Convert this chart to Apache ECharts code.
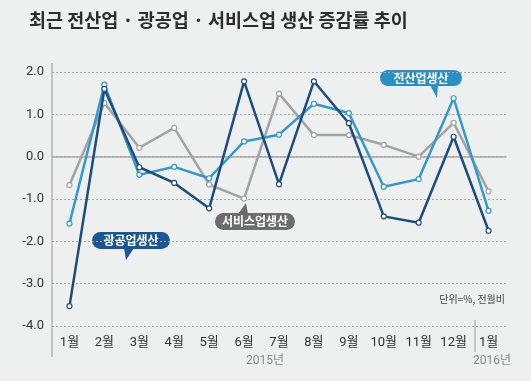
<!DOCTYPE html>
<html>
<head>
<meta charset="utf-8">
<script src="https://cdn.jsdelivr.net/npm/echarts@6/dist/echarts.min.js"></script>
<style>
html,body{margin:0;padding:0;background:#eeefef;}
#c{width:531px;height:381px;}
</style>
</head>
<body>
<div id="c"></div>
<script>
var categories = ['1월','2월','3월','4월','5월','6월','7월','8월','9월','10월','11월','12월','1월'];
var allIndustry = [-1.58, 1.70, -0.43, -0.24, -0.51, 0.36, 0.52, 1.25, 1.03, -0.71, -0.53, 1.38, -1.28];
var mining = [-3.53, 1.60, -0.25, -0.62, -1.22, 1.78, -0.65, 1.78, 0.79, -1.41, -1.56, 0.47, -1.75];
var services = [-0.67, 1.27, 0.21, 0.68, -0.66, -0.99, 1.49, 0.51, 0.51, 0.28, 0.00, 0.80, -0.82];
var yTicks = [-4, -3, -2, -1, 0, 1, 2];

var KR = "'Noto Sans CJK KR', sans-serif";
var NUM = "'Liberation Sans Narrow', 'Roboto', 'Noto Sans CJK KR', sans-serif";

var chart = echarts.init(document.getElementById('c'), null, {renderer: 'canvas'});

function bubble(x, y, w, h, color, text, tail) {
  return {
    type: 'group',
    children: [
      {type: 'polygon', shape: {points: tail}, style: {fill: color}},
      {type: 'rect', shape: {x: x, y: y, width: w, height: h, r: h / 2}, style: {fill: color}},
      {type: 'text', x: x + w / 2, y: y + h / 2, style: {text: text, fill: '#fff', font: 'bold 12px ' + KR, align: 'center', verticalAlign: 'middle'}}
    ]
  };
}

function mkSeries(name, data, color, z) {
  return {
    name: name, type: 'line', data: data, z: z,
    symbol: 'circle', symbolSize: 5,
    itemStyle: {color: '#ffffff', borderColor: color, borderWidth: 1.2},
    lineStyle: {color: color, width: 2.5},
    emphasis: {disabled: true},
    animation: false
  };
}

chart.setOption({
  backgroundColor: '#eeefef',
  animation: false,
  title: {
    text: '최근 전산업 · 광공업 · 서비스업 생산 증감률 추이',
    left: 24, top: 6,
    textStyle: {fontFamily: KR, fontSize: 18.5, fontWeight: 'bold', color: '#2d2d2d'}
  },
  grid: {left: 52, right: 25, top: 72, bottom: 55},
  xAxis: {
    type: 'category', data: categories, boundaryGap: true,
    axisLine: {show: true, lineStyle: {color: '#a8a8a8', width: 1.5}},
    axisTick: {show: false},
    splitLine: {show: false},
    axisLabel: {color: '#333', fontSize: 13, fontFamily: NUM, margin: 10, interval: 0}
  },
  yAxis: {
    type: 'value', min: yTicks[0], max: yTicks[yTicks.length - 1], interval: 1,
    axisLine: {show: false}, axisTick: {show: false},
    splitLine: {show: true, lineStyle: {color: '#a8a8a8', type: [2, 2], width: 1}},
    axisLabel: {color: '#333', fontSize: 13, fontFamily: NUM, margin: 8,
      formatter: function (v) { return v.toFixed(1); }}
  },
  series: [
    mkSeries('서비스업생산', services, '#a3a3a3', 2),
    mkSeries('전산업생산', allIndustry, '#3399ca', 3),
    mkSeries('광공업생산', mining, '#1d4c7e', 4)
  ],
  graphic: [
    {type: 'line', shape: {x1: 52, y1: 63, x2: 52, y2: 357}, style: {stroke: '#999', lineWidth: 1}},
    {type: 'line', shape: {x1: 475, y1: 320, x2: 475, y2: 352}, style: {stroke: '#999', lineWidth: 1}},
    {type: 'text', x: 265, y: 361, style: {text: '2015년', fill: '#888', font: '12px ' + NUM, align: 'center', verticalAlign: 'middle'}},
    {type: 'text', x: 492, y: 361, style: {text: '2016년', fill: '#888', font: '12px ' + NUM, align: 'center', verticalAlign: 'middle'}},
    {type: 'text', x: 505, y: 299, style: {text: '단위=%, 전월비', fill: '#444', font: '10px ' + KR, align: 'right', verticalAlign: 'middle'}},
    bubble(380, 70, 82, 16, '#2a8fc3', '전산업생산', [[430, 85], [438, 85], [437, 98]]),
    bubble(215, 213, 80, 17, '#6c6c6c', '서비스업생산', [[238, 214], [248, 214], [246, 203]]),
    bubble(92, 232, 78, 17, '#1a5796', '광공업생산', [[124, 248], [134, 248], [126, 260]])
  ]
});
</script>
</body>
</html>
